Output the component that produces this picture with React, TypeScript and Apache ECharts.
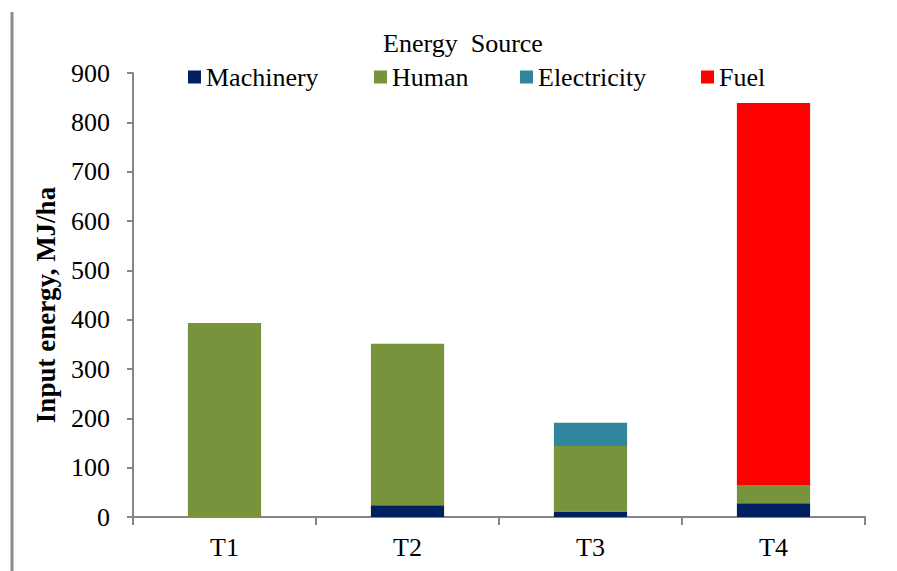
import React, { useEffect, useRef } from "react";
import * as echarts from "echarts";

const categories = ["T1", "T2", "T3", "T4"];
const machinery = [0, 24, 11, 28];
const human = [393, 327, 133, 37];
const electricity = [0, 0, 47, 0];
const fuel = [0, 0, 0, 774];
const seriesNames = ["Machinery", "Human", "Electricity", "Fuel"];
const seriesColors = ["#002060", "#77933C", "#31859C", "#FF0000"];
const yTicks = { min: 0, max: 900, interval: 100 };

export default function App() {
  const ref = useRef<HTMLDivElement>(null);
  useEffect(() => {
    document.body.style.margin = "0";
    const chart = echarts.init(ref.current!, null, { renderer: "svg" });
    const font = "'Liberation Serif', 'Times New Roman', serif";
    const values = [machinery, human, electricity, fuel];
    const legendLefts = [183, 369, 515, 696];
    chart.setOption({
      animation: false,
      textStyle: { fontFamily: font },
      title: {
        text: "Energy  Source",
        left: 458,
        top: 25,
        textAlign: "center",
        textStyle: { fontFamily: font, fontSize: 26, fontWeight: "normal", color: "#000" },
      },
      legend: seriesNames.map((n, i) => ({
        data: [n],
        left: legendLefts[i],
        top: 59,
        itemWidth: 13,
        itemHeight: 13,
        itemGap: 0,
        icon: "rect",
        textStyle: { fontFamily: font, fontSize: 26, color: "#000", padding: [0, 0, 0, 0] },
      })),
      grid: { left: 133, right: 32, top: 73, bottom: 54, containLabel: false },
      xAxis: {
        type: "category",
        data: categories,
        axisLine: { lineStyle: { color: "#868686", width: 2 } },
        axisTick: { show: true, length: 8, alignWithLabel: false, lineStyle: { color: "#868686", width: 2 } },
        axisLabel: { fontFamily: font, fontSize: 26, color: "#000", margin: 17 },
      },
      yAxis: {
        type: "value",
        min: yTicks.min,
        max: yTicks.max,
        interval: yTicks.interval,
        name: "Input energy, MJ/ha",
        nameLocation: "middle",
        nameGap: 74,
        nameRotate: 90,
        nameTextStyle: {
          fontFamily: font,
          fontSize: 27,
          fontWeight: "bold",
          color: "#000",
          padding: [0, 20, 0, 0],
        },
        axisLine: { show: true, lineStyle: { color: "#868686", width: 2 } },
        axisTick: { show: true, length: 6, lineStyle: { color: "#868686", width: 2 } },
        axisLabel: { fontFamily: font, fontSize: 26, color: "#000", margin: 23 },
        splitLine: { show: false },
      },
      graphic: [
        {
          type: "line",
          shape: { x1: 12, y1: 12, x2: 12, y2: 571 },
          style: { stroke: "#8c8c8c", lineWidth: 3 },
        },
      ],
      series: seriesNames.map((n, i) => ({
        name: n,
        type: "bar",
        stack: "total",
        barWidth: "40%",
        data: values[i],
        itemStyle: { color: seriesColors[i] },
      })),
    });
    return () => chart.dispose();
  }, []);
  return <div ref={ref} style={{ width: 897, height: 571 }} />;
}
